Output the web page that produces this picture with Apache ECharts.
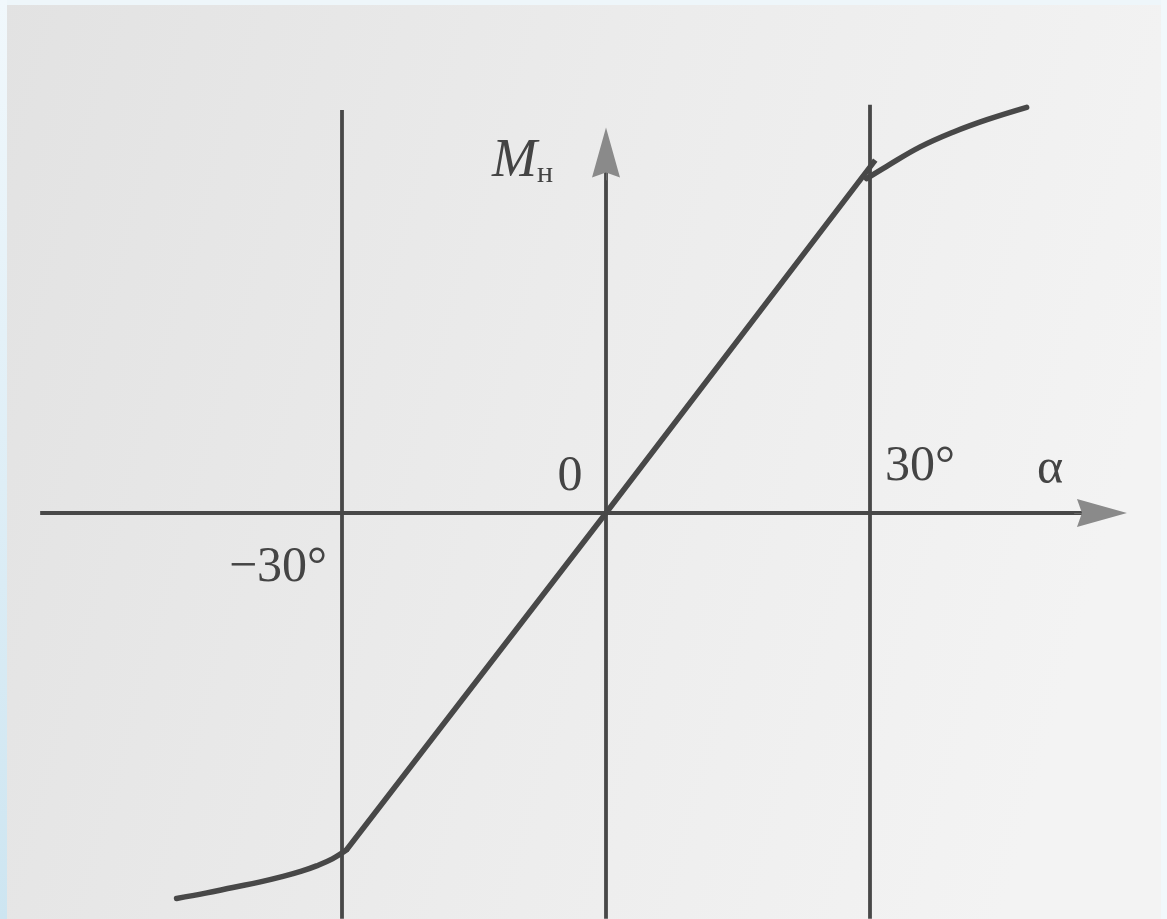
<!DOCTYPE html>
<html>
<head>
<meta charset="utf-8">
<script src="https://cdn.jsdelivr.net/npm/echarts@6/dist/echarts.min.js"></script>
<style>
  html, body { margin: 0; padding: 0; width: 1167px; height: 919px; overflow: hidden; }
  #chart { width: 1167px; height: 919px; }
</style>
</head>
<body>
<div id="chart"></div>
<script>
// Rudder hinge moment M_н versus deflection angle α (degrees)
const tickValues = [-30, 30];
const tickLabels = ['\u221230\u00b0', '30\u00b0'];
const originLabel = '0';
const xName = '\u03b1';
const yName = 'M';
const ySub = '\u043d';

// saturating tails and the linear middle part of the characteristic
const lowerTail = [[-48.8, -43.8], [-45.5, -43.2], [-42.4, -42.55], [-39.4, -41.95], [-36.7, -41.3], [-34.6, -40.7], [-32.9, -40.1], [-31.1, -39.3], [-29.5, -38.3]];
const linearPart = [[-29.5, -38.3], [0, 0], [30.6, 40.1]];
const upperTail = [[29.6, 38.0], [31.9, 39.4], [35.7, 41.6], [39.5, 43.3], [43.3, 44.7], [47.8, 46.1]];

// extents of the drawn axes and guide lines
const alphaExtent = [-64.3, 59.2];
const momentExtent = [-46.1, 43.8];
const guideTops = [45.8, 46.4];

const chart = echarts.init(document.getElementById('chart'));

const INK = '#484848';
const TEXT = '#444444';
const ARROW = '#8a8a8a';
const serif = '"Liberation Serif", "DejaVu Serif", serif';

// arrow head pointing up, tip at the top edge
const arrowPath = 'path://M0,0 L14,50 L0,45 L-14,50 Z';

const option = {
  animation: false,
  backgroundColor: {
    type: 'linear', x: 0, y: 0, x2: 1, y2: 0.35,
    colorStops: [
      { offset: 0, color: '#e2e2e2' },
      { offset: 0.55, color: '#ececec' },
      { offset: 1, color: '#f3f3f3' }
    ]
  },
  grid: { left: 0, right: 0, top: 0, bottom: 0 },
  xAxis: { type: 'value', min: -68.864, max: 63.75, show: false },
  yAxis: { type: 'value', min: -46.136, max: 58.295, show: false },
  series: [
    {
      // axes and ±30° guide lines
      type: 'line', data: [], silent: true,
      markLine: {
        silent: true, symbol: ['none', 'none'], label: { show: false },
        lineStyle: { color: INK, width: 3.8, type: 'solid' },
        emphasis: { disabled: true },
        data: [
          [{ coord: [alphaExtent[0], 0] }, { coord: [alphaExtent[1] - 3, 0] }],
          [{ coord: [0, momentExtent[0]] }, { coord: [0, momentExtent[1] - 3] }],
          [{ coord: [tickValues[0], momentExtent[0]] }, { coord: [tickValues[0], guideTops[0]] }],
          [{ coord: [tickValues[1], momentExtent[0]] }, { coord: [tickValues[1], guideTops[1]] }]
        ]
      }
    },
    {
      // arrow heads
      type: 'line', data: [], silent: true,
      markLine: {
        silent: true, symbol: ['none', arrowPath], symbolSize: [28, 50],
        label: { show: false },
        lineStyle: { color: ARROW, width: 0.5, type: 'solid' },
        emphasis: { disabled: true },
        data: [
          [{ coord: [alphaExtent[1] - 6, 0] }, { coord: [alphaExtent[1] - 2.84, 0] }],
          [{ coord: [0, momentExtent[1] - 6] }, { coord: [0, momentExtent[1] - 2.84] }]
        ]
      }
    },
    {
      type: 'line', data: lowerTail, smooth: 0.4, symbol: 'none',
      lineStyle: { color: INK, width: 5.5, cap: 'round' }
    },
    {
      type: 'line', data: linearPart, smooth: false, symbol: 'none',
      lineStyle: { color: INK, width: 5.5 }
    },
    {
      type: 'line', data: upperTail, smooth: 0.4, symbol: 'none',
      lineStyle: { color: INK, width: 5.5, cap: 'round' }
    },
    {
      // tick labels at ±30° and the origin
      type: 'scatter', symbol: 'circle', symbolSize: 1, silent: true,
      itemStyle: { color: 'rgba(0,0,0,0)', opacity: 1 },
      data: tickValues.map((v, i) => ({
        value: [v, 0],
        label: {
          formatter: tickLabels[i],
          offset: i === 0 ? [-64, 55] : [50, -46]
        }
      })).concat([{
        value: [0, 0],
        label: { formatter: originLabel, offset: [-36, -36] }
      }]),
      label: {
        show: true, position: 'inside', color: TEXT, fontFamily: serif, fontSize: 50,
        textBorderWidth: 0, opacity: 1
      }
    }
  ],
  graphic: [
    { type: 'rect', shape: { x: 0, y: 0, width: 1167, height: 5 }, style: { fill: '#eef6fa' }, silent: true },
    {
      type: 'rect', shape: { x: 0, y: 0, width: 7, height: 919 }, silent: true,
      style: {
        fill: {
          type: 'linear', x: 0, y: 0, x2: 0, y2: 1,
          colorStops: [{ offset: 0, color: '#f1f8fc' }, { offset: 1, color: '#cde5f1' }]
        }
      }
    },
    { type: 'rect', shape: { x: 1161, y: 0, width: 6, height: 919 }, style: { fill: '#f2f8fb' }, silent: true },
    {
      type: 'text', x: 1050, y: 470, silent: true,
      style: { text: xName, font: '50px ' + serif, fill: TEXT, align: 'center', verticalAlign: 'middle' }
    },
    {
      type: 'text', x: 492, y: 162, silent: true,
      style: {
        text: '{m|' + yName + '}{n|' + ySub + '}',
        align: 'left', verticalAlign: 'middle',
        rich: {
          m: { font: 'italic 54px ' + serif, fill: TEXT, verticalAlign: 'bottom' },
          n: { font: '30px ' + serif, fill: TEXT, verticalAlign: 'bottom' }
        }
      }
    }
  ]
};

chart.setOption(option);
</script>
</body>
</html>
